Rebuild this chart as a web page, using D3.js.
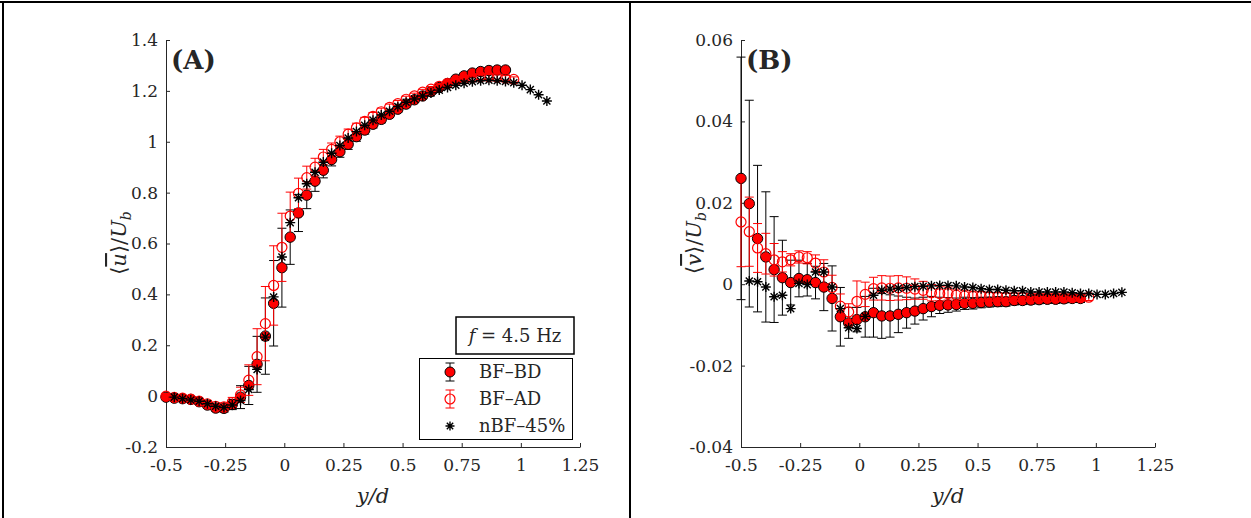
<!DOCTYPE html>
<html>
<head>
<meta charset="utf-8">
<script src="https://cdn.jsdelivr.net/npm/d3@7"></script>
<style>
body { margin: 0; background: #fff; }
text { font-family: "DejaVu Serif", serif; fill: #262626; }
</style>
</head>
<body>
<script>
// y/d positions of the measurement points
var yd = [-0.5,-0.465,-0.43,-0.395,-0.36,-0.325,-0.29,-0.255,-0.22,-0.185,-0.15,-0.115,-0.08,-0.045,-0.01,0.025,0.06,0.095,0.13,0.165,0.2,0.235,0.27,0.305,0.34,0.375,0.41,0.445,0.48,0.515,0.55,0.585,0.62,0.655,0.69,0.725,0.76,0.795,0.83,0.865,0.9,0.935,0.97,1.005,1.04,1.075,1.11];

var xTicks = [-0.5,-0.25,0,0.25,0.5,0.75,1,1.25];
var uTicks = [-0.2,0,0.2,0.4,0.6,0.8,1,1.2,1.4];
var vTicks = [-0.04,-0.02,0,0.02,0.04,0.06];
var seriesNames = ["BF\u2013BD","BF\u2013AD","nBF\u201345%"];

// panel A : <u>/Ub
var uBD = [-0.004,-0.008,-0.01,-0.013,-0.022,-0.035,-0.047,-0.048,-0.033,-0.004,0.042,0.125,0.236,0.365,0.505,0.625,0.72,0.79,0.845,0.888,0.93,0.961,0.99,1.02,1.046,1.069,1.088,1.108,1.128,1.148,1.165,1.18,1.197,1.213,1.229,1.246,1.259,1.27,1.276,1.28,1.282,1.282];
var uBDerr = [0.01,0.01,0.01,0.01,0.01,0.012,0.012,0.015,0.02,0.045,0.075,0.11,0.15,0.168,0.155,0.107,0.073,0.053,0.04,0.03,0.025,0.022,0.02,0.018,0.016,0.015,0.014,0.013,0.012,0.012,0.011,0.011,0.01,0.01,0.01,0.01,0.01,0.01,0.01,0.01,0.01,0.01];
var uAD = [0,-0.005,-0.008,-0.012,-0.02,-0.03,-0.04,-0.042,-0.025,0.005,0.063,0.155,0.285,0.435,0.585,0.708,0.797,0.859,0.9,0.94,0.97,1.0,1.03,1.055,1.08,1.1,1.118,1.135,1.15,1.167,1.18,1.195,1.207,1.218,1.23,1.24,1.247,1.252,1.255,1.255,1.253,1.25,1.245];
var uADerr = [0.01,0.01,0.01,0.01,0.01,0.012,0.012,0.015,0.02,0.03,0.06,0.11,0.146,0.156,0.134,0.094,0.06,0.045,0.035,0.03,0.025,0.022,0.02,0.018,0.016,0.015,0.014,0.013,0.012,0.012,0.011,0.011,0.01,0.01,0.01,0.01,0.01,0.01,0.01,0.01,0.01,0.01,0.01];
var uNBF = [-0.004,-0.01,-0.015,-0.02,-0.03,-0.04,-0.045,-0.035,-0.017,0.026,0.105,0.232,0.39,0.547,0.682,0.78,0.835,0.88,0.92,0.955,0.985,1.015,1.04,1.065,1.085,1.105,1.12,1.138,1.155,1.168,1.18,1.192,1.203,1.213,1.222,1.23,1.236,1.24,1.242,1.24,1.237,1.232,1.222,1.205,1.185,1.16];

// panel B : <v>/Ub
var vBD = [0.026,0.0198,0.0112,0.0067,0.0036,0.0016,0.0004,0.0014,0.0011,0.0004,-0.0007,-0.0035,-0.008,-0.0095,-0.0087,-0.008,-0.007,-0.0078,-0.0078,-0.0074,-0.007,-0.0066,-0.006,-0.0055,-0.0052,-0.0051,-0.005,-0.0047,-0.0047,-0.0045,-0.0044,-0.0043,-0.0043,-0.004,-0.004,-0.0039,-0.0038,-0.0037,-0.0037,-0.0036,-0.0035,-0.0035];
var vBDerr = [0.0298,0.0254,0.018,0.016,0.013,0.0092,0.0055,0.0045,0.004,0.004,0.0058,0.008,0.0072,0.0038,0.003,0.005,0.006,0.0055,0.0052,0.0045,0.0038,0.0032,0.0028,0.0025,0.002,0.0018,0.0016,0.0015,0.0014,0.0013,0.0012,0.0012,0.0011,0.0011,0.001,0.001,0.001,0.001,0.001,0.001,0.001,0.001];
var vAD = [0.0153,0.0129,0.0089,0.0075,0.006,0.0055,0.006,0.0067,0.0065,0.0052,0.003,-0.0008,-0.0054,-0.0068,-0.0042,-0.0025,-0.0011,-0.0009,-0.001,-0.0009,-0.001,-0.0012,-0.0015,-0.0021,-0.0023,-0.0023,-0.0027,-0.0029,-0.003,-0.003,-0.0031,-0.0031,-0.0032,-0.0032,-0.0032,-0.0033,-0.0033,-0.0033,-0.0033,-0.0033,-0.0033,-0.0033,-0.0032];
var vADerr = [0.011,0.0085,0.006,0.005,0.004,0.0025,0.0015,0.0015,0.0015,0.002,0.003,0.003,0.003,0.002,0.005,0.003,0.0028,0.003,0.003,0.003,0.0028,0.0025,0.0022,0.002,0.0018,0.0016,0.0015,0.0014,0.0013,0.0012,0.0011,0.001,0.001,0.001,0.001,0.0009,0.0009,0.0009,0.0009,0.0008,0.0008,0.0008,0.0008];
var vNBF = [0.0008,0.0006,-0.0007,-0.0031,-0.0027,-0.006,0.0002,-0.0001,0.003,0.003,-0.0007,-0.006,-0.0107,-0.0109,-0.0079,-0.0027,-0.0015,-0.0012,-0.001,-0.0008,-0.0006,-0.0005,-0.0004,-0.0003,-0.0003,-0.0004,-0.0007,-0.0008,-0.0011,-0.0013,-0.0013,-0.0015,-0.0016,-0.0016,-0.0019,-0.0019,-0.0019,-0.0019,-0.0019,-0.0021,-0.0023,-0.0023,-0.0025,-0.0025,-0.0023,-0.002];

var width = 1251, height = 518;
var axCol = "#262626";
var serif = "'DejaVu Serif', serif";

var svg = d3.select("body").append("svg")
	.attr("width", width)
	.attr("height", height);

// outer frame
svg.append("line").attr("x1", 0).attr("x2", width).attr("y1", 2).attr("y2", 2).attr("stroke", "#000").attr("stroke-width", 2);
svg.append("line").attr("x1", 3).attr("x2", 3).attr("y1", 1).attr("y2", height).attr("stroke", "#000").attr("stroke-width", 2);
svg.append("line").attr("x1", 630).attr("x2", 630).attr("y1", 1).attr("y2", height).attr("stroke", "#000").attr("stroke-width", 2);

function star(g, cx, cy, r) {
	var p = "";
	[0, 45, 90, 135].forEach(function(a) {
		var dx = r * Math.cos(a * Math.PI / 180), dy = r * Math.sin(a * Math.PI / 180);
		p += "M" + (cx - dx) + "," + (cy - dy) + "L" + (cx + dx) + "," + (cy + dy);
	});
	return g.append("path").attr("d", p).attr("stroke", "#000").attr("stroke-width", 1.4).attr("fill", "none");
}

function errorSeries(g, x, y, vals, errs, col) {
	var pts = vals.map(function(v, i) { return {x: yd[i], v: v, e: errs[i]}; });
	var eg = g.append("g").attr("stroke", col).attr("stroke-width", 1).attr("fill", "none");
	pts.forEach(function(d) {
		var px = x(d.x), y0 = y(d.v - d.e), y1 = y(d.v + d.e);
		eg.append("line").attr("x1", px).attr("x2", px).attr("y1", y0).attr("y2", y1);
		eg.append("line").attr("x1", px - 4.5).attr("x2", px + 4.5).attr("y1", y0).attr("y2", y0);
		eg.append("line").attr("x1", px - 4.5).attr("x2", px + 4.5).attr("y1", y1).attr("y2", y1);
	});
	return pts;
}

function panel(opt) {
	var x = d3.scaleLinear([-0.5, 1.25], [opt.left, opt.left + 414]);
	var y = d3.scaleLinear(opt.ydom, [447, 40]);
	var g = svg.append("g");

	var xa = g.append("g")
		.attr("transform", "translate(0,447)")
		.call(d3.axisBottom(x).tickValues(xTicks).tickSize(-4).tickSizeOuter(0).tickPadding(12)
			.tickFormat(function(d) { return String(d); }));
	var ya = g.append("g")
		.attr("transform", "translate(" + opt.left + ",0)")
		.call(d3.axisLeft(y).tickValues(opt.ticks).tickSize(-4).tickSizeOuter(0).tickPadding(8)
			.tickFormat(function(d) { return String(d); }));
	[xa, ya].forEach(function(a) {
		a.attr("font-family", serif);
		a.selectAll("path, line").attr("stroke", axCol);
		a.selectAll("text").attr("font-size", 17).attr("fill", axCol);
	});

	// BF-BD : red filled, black error bars
	var bd = errorSeries(g, x, y, opt.bd, opt.bdErr, "#000");
	g.append("g").selectAll("circle").data(bd).enter().append("circle")
		.attr("cx", function(d) { return x(d.x); })
		.attr("cy", function(d) { return y(d.v); })
		.attr("r", 5.2)
		.attr("fill", "#ff0000").attr("stroke", "#000").attr("stroke-width", 1);

	// BF-AD : open red circles
	var ad = errorSeries(g, x, y, opt.ad, opt.adErr, "#ff0000");
	g.append("g").selectAll("circle").data(ad).enter().append("circle")
		.attr("cx", function(d) { return x(d.x); })
		.attr("cy", function(d) { return y(d.v); })
		.attr("r", 5)
		.attr("fill", "none").attr("stroke", "#ff0000").attr("stroke-width", 1.2);

	// nBF-45% : stars, start at second station
	var sg = g.append("g");
	opt.nbf.forEach(function(v, i) { star(sg, x(yd[i + 1]), y(v), 5); });

	// labels
	g.append("text").attr("x", opt.left + 207).attr("y", 503)
		.attr("text-anchor", "middle").attr("font-size", 21).attr("font-style", "italic")
		.text("y/d");

	var yl = g.append("text")
		.attr("transform", "translate(" + (opt.left - 40) + ",243) rotate(-90)")
		.attr("text-anchor", "middle").attr("font-size", 21);
	yl.append("tspan").text("\u27E8");
	yl.append("tspan").attr("font-style", "italic").style("text-decoration", "overline").text(opt.sym);
	yl.append("tspan").text("\u27E9/");
	yl.append("tspan").attr("font-style", "italic").text("U");
	yl.append("tspan").attr("font-style", "italic").attr("font-size", 14).attr("dy", 5).text("b");

	g.append("text").attr("x", opt.left + 5).attr("y", 69)
		.attr("font-size", 26).attr("font-weight", "bold").attr("fill", "#000")
		.text(opt.tag);
	return {x: x, y: y, g: g};
}

var A = panel({left: 166, ydom: [-0.2, 1.4], ticks: uTicks, bd: uBD, bdErr: uBDerr, ad: uAD, adErr: uADerr, nbf: uNBF, sym: "u", tag: "(A)"});
var B = panel({left: 741, ydom: [-0.04, 0.06], ticks: vTicks, bd: vBD, bdErr: vBDerr, ad: vAD, adErr: vADerr, nbf: vNBF, sym: "v", tag: "(B)"});

// frequency box
var fb = svg.append("g");
fb.append("rect").attr("x", 456).attr("y", 317).attr("width", 118).attr("height", 37)
	.attr("fill", "#fff").attr("stroke", "#000").attr("stroke-width", 1.5);
var ft = fb.append("text").attr("x", 515).attr("y", 342).attr("text-anchor", "middle").attr("font-size", 18).attr("fill", "#000");
ft.append("tspan").attr("font-style", "italic").text("f");
ft.append("tspan").text(" = 4.5 Hz");

// legend
var lg = svg.append("g");
lg.append("rect").attr("x", 419.5).attr("y", 358.5).attr("width", 153).attr("height", 81)
	.attr("fill", "#fff").attr("stroke", "#000").attr("stroke-width", 1);
var ly = [372, 399, 426], lx = 450;
[["#000", "#ff0000", "#000"], ["#ff0000", "none", "#ff0000"]].forEach(function(c, i) {
	var cy = ly[i];
	lg.append("line").attr("x1", lx).attr("x2", lx).attr("y1", cy - 9).attr("y2", cy + 9).attr("stroke", c[0]);
	lg.append("line").attr("x1", lx - 4.5).attr("x2", lx + 4.5).attr("y1", cy - 9).attr("y2", cy - 9).attr("stroke", c[0]);
	lg.append("line").attr("x1", lx - 4.5).attr("x2", lx + 4.5).attr("y1", cy + 9).attr("y2", cy + 9).attr("stroke", c[0]);
	lg.append("circle").attr("cx", lx).attr("cy", cy).attr("r", 5)
		.attr("fill", c[1]).attr("stroke", c[2]).attr("stroke-width", c[1] === "none" ? 1.2 : 1);
});
star(lg, lx, ly[2], 4.5);
lg.selectAll("text.lab").data(seriesNames).enter().append("text")
	.attr("class", "lab")
	.attr("x", 479)
	.attr("y", function(d, i) { return ly[i] + 6; })
	.attr("font-size", 18).attr("fill", "#000")
	.text(function(d) { return d; });
</script>
</body>
</html>
